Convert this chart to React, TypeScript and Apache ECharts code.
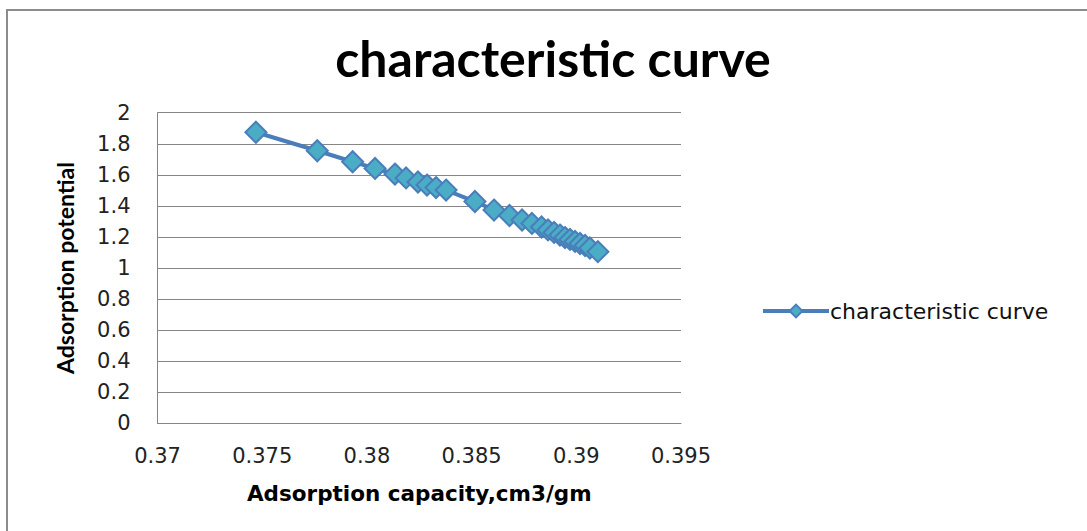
import React, { useEffect, useRef } from "react";
import * as echarts from "echarts";

const seriesName = "characteristic curve";
const capacity = [
  0.3747, 0.37763, 0.37932, 0.38039, 0.38134, 0.38187, 0.38244, 0.38287, 0.3833, 0.38378,
  0.38516, 0.38607, 0.38681, 0.38741, 0.38788, 0.38834, 0.38865, 0.38894, 0.38922, 0.38946,
  0.3897, 0.38994, 0.39018, 0.39042, 0.39065, 0.39103,
];
const potential = [
  1.874, 1.755, 1.684, 1.641, 1.605, 1.58, 1.554, 1.534, 1.518, 1.502,
  1.428, 1.373, 1.338, 1.309, 1.287, 1.264, 1.245, 1.229, 1.212, 1.196,
  1.184, 1.171, 1.158, 1.145, 1.129, 1.105,
];

const TITLE_FONT = "Lato";
const LABEL_FONT = "DejaVu Sans";

export default function App() {
  const ref = useRef<HTMLDivElement>(null);
  useEffect(() => {
    if (!ref.current) return;
    const chart = echarts.init(ref.current, null, { renderer: "svg" });
    const data = capacity.map((x, i) => [x, potential[i]]);
    chart.setOption({
      animation: false,
      backgroundColor: "#ffffff",
      title: {
        text: "characteristic curve",
        left: 548,
        textAlign: "center",
        top: 28,
        textStyle: { fontFamily: TITLE_FONT, fontWeight: "bold", fontSize: 50, color: "#000" },
      },
      graphic: [
        {
          type: "rect",
          shape: { x: 7, y: 10, width: 1100, height: 540 },
          style: { fill: "none", stroke: "#8c8c8c", lineWidth: 2 },
          silent: true,
        },
      ],
      grid: { left: 157.5, right: 406, top: 112.7, bottom: 107.7 },
      legend: {
        left: 756,
        top: 295,
        itemWidth: 66,
        itemHeight: 16,
        itemGap: 5,
        lineStyle: { width: 4, color: "#4a7ebb" },
        textStyle: { fontFamily: LABEL_FONT, fontSize: 22, color: "#111", padding: [0, 0, 0, -4] },
        data: [seriesName],
      },
      xAxis: {
        type: "value",
        min: 0.37,
        max: 0.395,
        interval: 0.005,
        name: "Adsorption capacity,cm3/gm",
        nameLocation: "middle",
        nameGap: 59,
        nameTextStyle: { fontFamily: LABEL_FONT, fontWeight: "bold", fontSize: 21.5, color: "#000" },
        axisLine: { show: true, lineStyle: { color: "#868686", width: 1 } },
        axisTick: { show: false },
        splitLine: { show: false },
        axisLabel: {
          margin: 22,
          fontFamily: LABEL_FONT,
          fontSize: 21,
          color: "#222",
          formatter: (v: number) => String(parseFloat(v.toFixed(3))),
        },
      },
      yAxis: {
        type: "value",
        min: 0,
        max: 2,
        interval: 0.2,
        name: "Adsorption potential",
        nameLocation: "middle",
        nameGap: 81,
        nameTextStyle: { fontFamily: TITLE_FONT, fontWeight: "bold", fontSize: 23, color: "#000" },
        axisLine: { show: true, lineStyle: { color: "#868686", width: 1 } },
        axisTick: { show: false },
        splitLine: { show: true, lineStyle: { color: "#868686", width: 1 } },
        axisLabel: {
          margin: 27,
          fontFamily: LABEL_FONT,
          fontSize: 21,
          color: "#222",
          formatter: (v: number) => String(parseFloat(v.toFixed(1))),
        },
      },
      series: [
        {
          name: seriesName,
          type: "line",
          data,
          symbol: "diamond",
          symbolSize: 21,
          lineStyle: { color: "#4a7ebb", width: 4 },
          itemStyle: { color: "#4bacc6", borderColor: "#4a7ebb", borderWidth: 2 },
        },
      ],
    });
    return () => chart.dispose();
  }, []);
  return (
    <div
      ref={ref}
      style={{ position: "fixed", left: 0, top: 0, width: 1087, height: 531 }}
    />
  );
}
